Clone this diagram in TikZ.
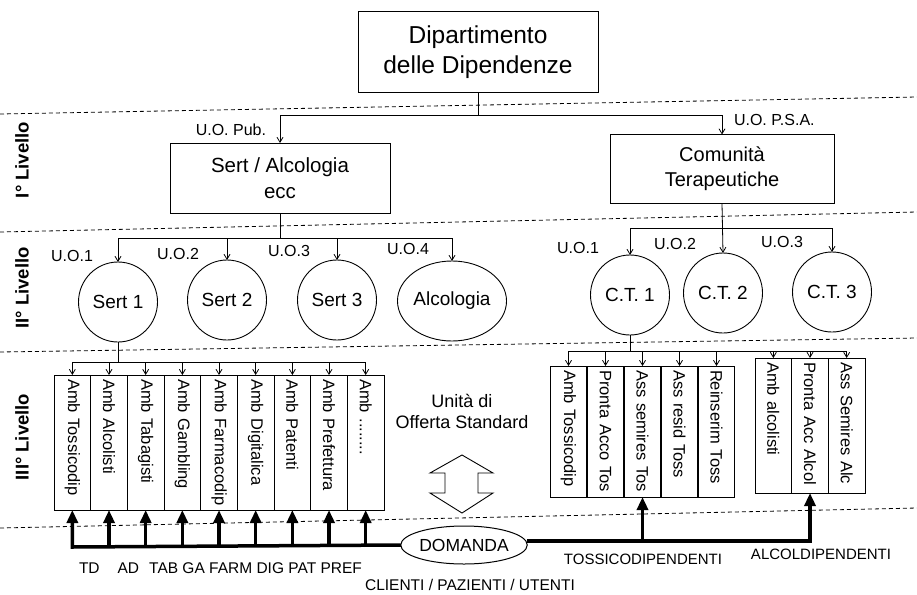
\documentclass[tikz,border=0pt]{standalone}
\usepackage{fontspec}
\setmainfont{Liberation Sans}
\usetikzlibrary{arrows.meta,shapes.geometric}
\newcommand\fsz[2]{\fontsize{#1}{#2}\selectfont}
\newcommand\ambdots{Amb ........}
\begin{document}
\begin{tikzpicture}[x=1pt,y=-1pt,
  every node/.style={inner sep=0pt, outer sep=0pt},
  box/.style={draw, line width=1pt, align=center},
  unit/.style={draw, ellipse, line width=0.9pt, minimum width=79pt, minimum height=80pt, font=\fsz{19}{22}},
  col/.style={draw, line width=0.9pt, rotate=-90, minimum height=36.7pt, inner xsep=4pt,
    text width=#1, align=left, font=\fsz{16.5}{18}},
  lbl/.style={font=\fsz{16}{18}},
  lvl/.style={rotate=90, font=\bfseries\fsz{18.5}{20}},
  ln/.style={line width=0.8pt},
  arr/.style={line width=0.8pt, -{Straight Barb[length=5pt,width=6pt]}},
  fat/.style={line width=3.5pt, line join=miter, -{Triangle[length=13pt,width=11pt]}},
  sep/.style={line width=0.8pt, dash pattern=on 4pt off 3pt},
]
\useasboundingbox (0,0) rectangle (917,594);

% level separators
\draw[sep] (0,114) -- (917,97);
\draw[sep] (0,232) -- (917,212);
\draw[sep] (0,352) -- (917,338);
\draw[sep] (0,528) -- (917,508);

% level labels
\node[lvl] (lv1) at (22,160) {I° Livello};
\node[lvl] (lv2) at (22,288) {II° Livello};
\node[lvl] (lv3) at (22,437) {III° Livello};

% top of the hierarchy
\node[box, minimum width=240pt, minimum height=80pt, font=\fsz{24.5}{30}] (dip) at (478,52)
  {Dipartimento\\delle Dipendenze};
\node[box, minimum width=220pt, minimum height=70pt, font=\fsz{20.5}{26}] (sert) at (280,178)
  {Sert / Alcologia\\ecc};
\node[box, minimum width=224pt, minimum height=69pt, font=\fsz{20}{25}] (com) at (722,169)
  {Comunità\\Terapeutiche};

\coordinate (bus0) at (0,115);
\draw[ln] (dip.south) -- (dip.south |- bus0);
\draw[ln] (sert.north |- bus0) -- (com.north |- bus0);
\draw[arr] (sert.north |- bus0) -- (sert.north);
\draw[arr] (com.north |- bus0) -- (com.north);
\node[lbl, anchor=east] (uopub) at (266,130) {U.O. Pub.};
\node[lbl, anchor=west] (uopsa) at (734,120) {U.O. P.S.A.};

% second level: services
\node[unit] (s1) at (118,302) {Sert 1};
\node[unit] (s2) at (227,300) {Sert 2};
\node[unit] (s3) at (337,300) {Sert 3};
\node[unit] (s4) at (452,301) {Alcologia};
\node[unit] (ct1) at (630,295) {C.T. 1};
\node[unit] (ct2) at (723,293) {C.T. 2};
\node[unit] (ct3) at (832,292) {C.T. 3};

\coordinate (bus1) at (0,238);
\draw[ln] (sert.south) -- (sert.south |- bus1);
\draw[ln] (s1.north |- bus1) -- (s4.north |- bus1);
\foreach \n in {s1,s2,s3,s4} \draw[arr] (\n.north |- bus1) -- (\n.north);
\node[lbl] (uo1) at (72,256) {U.O.1};
\node[lbl] (uo2) at (178,254) {U.O.2};
\node[lbl] (uo3) at (289,251) {U.O.3};
\node[lbl] (uo4) at (408,249) {U.O.4};

\coordinate (bus2) at (0,228);
\draw[arr] (com.south) -- (ct2.north);
\draw[ln] (ct1.north |- bus2) -- (ct3.north |- bus2);
\draw[arr] (ct1.north |- bus2) -- (ct1.north);
\draw[arr] (ct3.north |- bus2) -- (ct3.north);
\node[lbl] (uor1) at (578,248) {U.O.1};
\node[lbl] (uor2) at (675,244) {U.O.2};
\node[lbl] (uor3) at (782,242) {U.O.3};

% third level: standard offer units
\foreach \t [count=\i] in {Amb Tossicodip, Amb Alcolisti, Amb Tabagisti, Amb Gambling,
    Amb Farmacodip, Amb Digitalica, Amb Patenti, Amb Prefettura, \ambdots}
  \node[col=127pt] (l\i) at ({54+36.67*(\i-0.5)},442.5) {\mbox{\t}};
\foreach \t [count=\i] in {Amb Tossicodip, Pronta Acco Tos, Ass semires Tos, Ass resid Toss,
    Reinserim Toss}
  \node[col=123pt] (a\i) at ({550+37*(\i-0.5)},431.5) {\mbox{\t}};
\foreach \t [count=\i] in {Amb alcolisti, Pronta Acc Alcol, Ass Semires Alc}
  \node[col=127pt] (b\i) at ({755+36.67*(\i-0.5)},425.5) {\mbox{\t}};

\coordinate (bus3) at (0,362);
\draw[ln] (s1.south) -- (s1.south |- bus3);
\draw[ln] (l1.west |- bus3) -- (l9.west |- bus3);
\foreach \i in {1,...,9} \draw[arr] (l\i.west |- bus3) -- (l\i.west);

\coordinate (bus4) at (0,351);
\draw[ln] (ct1.south) -- (ct1.south |- bus4);
\draw[ln] (a1.west |- bus4) -- (b3.west |- bus4);
\foreach \n in {a1,a2,a3,a4,a5,b1,b2,b3} \draw[arr] (\n.west |- bus4) -- (\n.west);

\node[font=\fsz{18}{21}, align=center] (uos) at (462,411) {Unità di\\Offerta Standard};
\draw[line width=0.9pt] (462,455) -- (493,473) -- (478,473) -- (478,493) -- (493,493)
  -- (462,513) -- (430,493) -- (445,493) -- (445,473) -- (430,473) -- cycle;

% demand
\node[draw, ellipse, line width=1pt, minimum width=117pt, minimum height=38pt,
  font=\fsz{17.5}{20}] (dom) at (464,545) {DOMANDA};
\coordinate (busB) at (0,547);
\coordinate (busR) at (0,541);
\draw[fat] (dom.west) -- (l1.east |- busB) -- (l1.east);
\foreach \i in {2,...,9} \draw[fat] (l\i.east |- busB) -- (l\i.east);
\draw[fat] (dom.east |- busR) -- (b2.east |- busR) -- (b2.east);
\draw[fat] (a3.east |- busR) -- (a3.east);

\node[anchor=west, font=\fsz{15.5}{17}] (codes) at (79,568)
  {TD\hspace{18pt}AD\hspace{10pt}TAB GA FARM DIG PAT PREF};
\node[font=\fsz{15}{17}] (tox) at (643,559) {TOSSICODIPENDENTI};
\node[font=\fsz{15}{17}] (alc) at (821,554) {ALCOLDIPENDENTI};
\node[font=\fsz{15.5}{18}] (cli) at (470,585) {CLIENTI / PAZIENTI / UTENTI};
\end{tikzpicture}
\end{document}
